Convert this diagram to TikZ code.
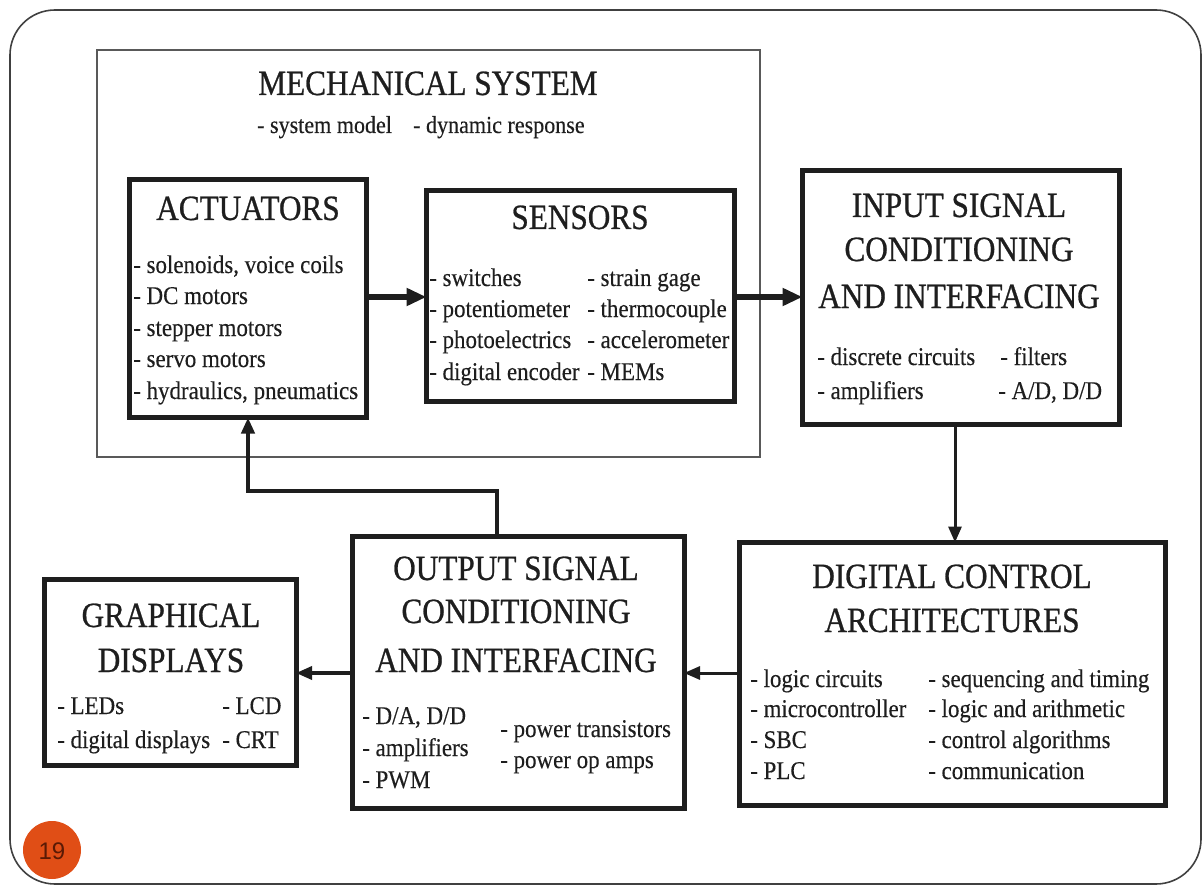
\documentclass[tikz,border=0pt]{standalone}
\usepackage{fontspec}
\setmainfont{Liberation Serif}[FakeStretch=0.9]
\newfontfamily\ttlfont{Liberation Serif}[FakeStretch=0.88, FakeBold=0.7]
\newfontfamily\itmfont{Liberation Serif}[FakeStretch=0.9, FakeBold=0.3]
\newfontfamily\numfont{Liberation Sans}
\usetikzlibrary{arrows.meta}
\definecolor{ink}{HTML}{1E1E1E}
\definecolor{badge}{HTML}{E04E16}
\definecolor{badgetext}{HTML}{5A1A05}
\tikzset{
  frame/.style={draw=ink, line width=5pt, inner sep=0pt, outer sep=0pt, fill=white},
  mechbox/.style={draw=black!65, line width=1.6pt, inner sep=0pt, outer sep=0pt},
  ttl/.style={anchor=base, text=ink, font=\ttlfont\fontsize{35.5}{35.5}\selectfont, inner sep=0pt},
  itm/.style={anchor=base west, text=ink, font=\itmfont\fontsize{25.5}{25.5}\selectfont, inner sep=0pt},
  bigarr/.style={draw=ink, line width=6pt, -{Triangle[length=20pt,width=17pt]}},
  thinarr/.style={draw=ink, line width=3pt, -{Triangle[length=16pt,width=13pt]}},
}
\begin{document}
\begin{tikzpicture}[x=1pt,y=-1pt]
\useasboundingbox (0,0) rectangle (1204,885);
% outer slide frame
\draw[draw=black!75, line width=1.6pt, rounded corners=45pt] (10,10) rectangle (1201,884);
% mechanical system
\node[mechbox, minimum width=663pt, minimum height=407pt] (mech) at (428.5,253.5) {};
\node[ttl] (mecht) at (428,95) {MECHANICAL SYSTEM};
\node[itm, font=\itmfont\fontsize{24.5}{24.5}\selectfont] (mech1) at (257,133) {- system model};
\node[itm, font=\itmfont\fontsize{24.5}{24.5}\selectfont] (mech2) at (413,133) {- dynamic response};
% actuators
\node[frame, minimum width=237pt, minimum height=238pt] (act) at (248,298.5) {};
\node[ttl] (actt) at (248,220) {ACTUATORS};
\node[itm] (act1) at (133,273) {- solenoids, voice coils};
\node[itm] (act2) at (133,304) {- DC motors};
\node[itm] (act3) at (133,336) {- stepper motors};
\node[itm] (act4) at (133,367) {- servo motors};
\node[itm] (act5) at (133,399) {- hydraulics, pneumatics};
% sensors
\node[frame, minimum width=308pt, minimum height=211pt] (sen) at (580.5,296) {};
\node[ttl] (sent) at (580,229) {SENSORS};
\node[itm] (sen1) at (429,286) {- switches};
\node[itm] (sen2) at (429,317) {- potentiometer};
\node[itm] (sen3) at (429,348) {- photoelectrics};
\node[itm] (sen4) at (429,380) {- digital encoder};
\node[itm] (sen5) at (587,286) {- strain gage};
\node[itm] (sen6) at (587,317) {- thermocouple};
\node[itm] (sen7) at (587,348) {- accelerometer};
\node[itm] (sen8) at (587,380) {- MEMs};
% input signal conditioning
\node[frame, minimum width=317pt, minimum height=254pt] (inp) at (961,297.5) {};
\node[ttl] (inpt1) at (959,217) {INPUT SIGNAL};
\node[ttl] (inpt2) at (959,261) {CONDITIONING};
\node[ttl] (inpt3) at (959,308) {AND INTERFACING};
\node[itm] (inp1) at (817,365) {- discrete circuits};
\node[itm] (inp2) at (817,399) {- amplifiers};
\node[itm] (inp3) at (1000,365) {- filters};
\node[itm] (inp4) at (998,399) {- A/D, D/D};
% digital control
\node[frame, minimum width=426pt, minimum height=263pt] (dig) at (952.5,674) {};
\node[ttl] (digt1) at (952,588) {DIGITAL CONTROL};
\node[ttl] (digt2) at (952,632) {ARCHITECTURES};
\node[itm] (dig1) at (750,687) {- logic circuits};
\node[itm] (dig2) at (750,717) {- microcontroller};
\node[itm] (dig3) at (750,748) {- SBC};
\node[itm] (dig4) at (750,779) {- PLC};
\node[itm] (dig5) at (928,687) {- sequencing and timing};
\node[itm] (dig6) at (928,717) {- logic and arithmetic};
\node[itm] (dig7) at (928,748) {- control algorithms};
\node[itm] (dig8) at (928,779) {- communication};
% output signal conditioning
\node[frame, minimum width=332pt, minimum height=272pt] (out) at (518,672) {};
\node[ttl] (outt1) at (516,580) {OUTPUT SIGNAL};
\node[ttl] (outt2) at (516,623) {CONDITIONING};
\node[ttl] (outt3) at (516,672) {AND INTERFACING};
\node[itm] (out1) at (362,724) {- D/A, D/D};
\node[itm] (out2) at (362,756) {- amplifiers};
\node[itm] (out3) at (362,788) {- PWM};
\node[itm] (out4) at (500,737) {- power transistors};
\node[itm] (out5) at (500,768) {- power op amps};
% graphical displays
\node[frame, minimum width=252pt, minimum height=186pt] (gra) at (170,672) {};
\node[ttl] (grat1) at (171,627) {GRAPHICAL};
\node[ttl] (grat2) at (171,672) {DISPLAYS};
\node[itm] (gra1) at (57,714) {- LEDs};
\node[itm] (gra2) at (57,748) {- digital displays};
\node[itm] (gra3) at (222,714) {- LCD};
\node[itm] (gra4) at (222,748) {- CRT};
% connectors
\coordinate (rowA) at (0,297);
\coordinate (rowB) at (0,673);
\coordinate (colA) at (955,0);
\coordinate (fb) at (497,491);
\draw[bigarr] (act.east |- rowA) -- (sen.west |- rowA);
\draw[bigarr] (sen.east |- rowA) -- (inp.west |- rowA);
\draw[thinarr] (inp.south -| colA) -- (dig.north -| colA);
\draw[thinarr] (dig.west |- rowB) -- (out.east |- rowB);
\draw[thinarr, line width=3.5pt] (out.west |- rowB) -- (gra.east |- rowB);
\draw[thinarr, line width=4pt] (out.north -| fb) -- (fb) -| (act.south);
% slide number badge
\begin{scope}
\clip (18,836) -- (26,836) -- (34,824) -- (34,815) -- (90,815) -- (90,885) -- (18,885) -- cycle;
\fill[badge] (52,850) circle (29pt);
\end{scope}
\node[text=badgetext, font=\numfont\fontsize{24}{24}\selectfont, inner sep=0pt] (num) at (52,851) {19};
\end{tikzpicture}
\end{document}
